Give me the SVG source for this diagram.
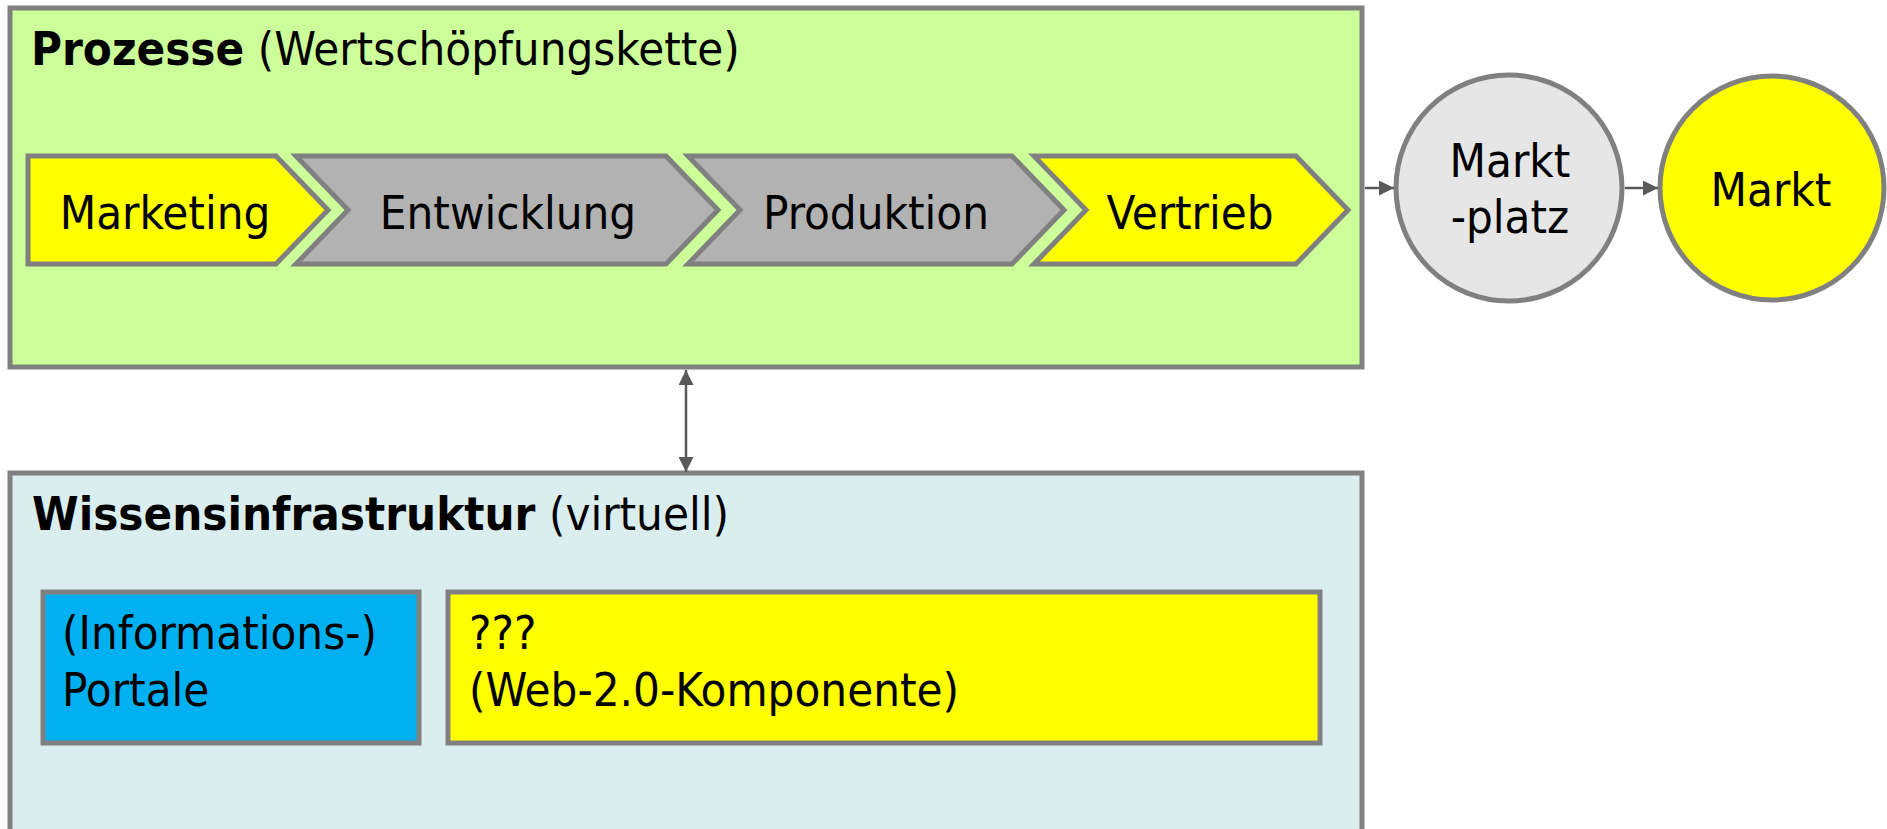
<svg xmlns="http://www.w3.org/2000/svg" width="1887" height="829" viewBox="0 0 1887 829">
<style>
.t{font-family:"DejaVu Sans Condensed","DejaVu Sans",sans-serif;font-stretch:condensed;font-size:47px;fill:#000}
.b{font-weight:bold}
.frame{stroke:#808080;stroke-width:5}
.conn{stroke:#595959;stroke-width:2.5;fill:none}
</style>
<defs>
<marker id="ah" viewBox="0 0 10 10" refX="10" refY="5" markerWidth="6.5" markerHeight="6" markerUnits="strokeWidth" orient="auto-start-reverse">
<path d="M0,0 L10,5 L0,10 Z" fill="#595959"/>
</marker>
</defs>
<rect width="1887" height="829" fill="#fff"/>
<g id="prozesse">
<rect x="10" y="8" width="1352" height="359" fill="#CCFF99" class="frame"/>
<text class="t" x="31" y="65"><tspan class="b">Prozesse</tspan> (Wertschöpfungskette)</text>
</g>
<g id="marketing">
<polygon points="28,156 276,156 328,210 276,264 28,264" fill="#FFFF00" class="frame"/>
<text class="t" x="165" y="229" text-anchor="middle">Marketing</text>
</g>
<g id="entwicklung">
<polygon points="296,156 666,156 718,210 666,264 296,264 348,210" fill="#B2B2B2" class="frame"/>
<text class="t" x="508" y="229" text-anchor="middle">Entwicklung</text>
</g>
<g id="produktion">
<polygon points="688,156 1012,156 1064,210 1012,264 688,264 740,210" fill="#B2B2B2" class="frame"/>
<text class="t" x="876" y="229" text-anchor="middle">Produktion</text>
</g>
<g id="vertrieb">
<polygon points="1034,156 1296,156 1348,210 1296,264 1034,264 1086,210" fill="#FFFF00" class="frame"/>
<text class="t" x="1190" y="229" text-anchor="middle">Vertrieb</text>
</g>
<g id="marktplatz">
<circle cx="1509" cy="188" r="113" fill="#E6E6E6" class="frame"/>
<text class="t" x="1510" y="177" text-anchor="middle">Markt</text>
<text class="t" x="1510" y="233" text-anchor="middle">-platz</text>
</g>
<g id="markt">
<circle cx="1772" cy="188" r="112" fill="#FFFF00" class="frame"/>
<text class="t" x="1771" y="206" text-anchor="middle">Markt</text>
</g>
<g id="wissensinfrastruktur">
<rect x="10" y="473" width="1352" height="370" fill="#DAEEF0" class="frame"/>
<text class="t" x="32" y="530"><tspan class="b">Wissensinfrastruktur</tspan> (virtuell)</text>
</g>
<g id="portale">
<rect x="43" y="592" width="376" height="151" fill="#00B0F0" class="frame"/>
<text class="t" x="62" y="649">(Informations-)</text>
<text class="t" x="62" y="706">Portale</text>
</g>
<g id="web20">
<rect x="448" y="592" width="872" height="151" fill="#FFFF00" class="frame"/>
<text class="t" x="469" y="649">???</text>
<text class="t" x="469" y="706">(Web-2.0-Komponente)</text>
</g>
<g id="connectors">
<line x1="1365" y1="188" x2="1394" y2="188" class="conn" marker-end="url(#ah)"/>
<line x1="1625" y1="188" x2="1658" y2="188" class="conn" marker-end="url(#ah)"/>
<line x1="686" y1="370" x2="686" y2="472" class="conn" marker-start="url(#ah)" marker-end="url(#ah)"/>
</g>
</svg>
